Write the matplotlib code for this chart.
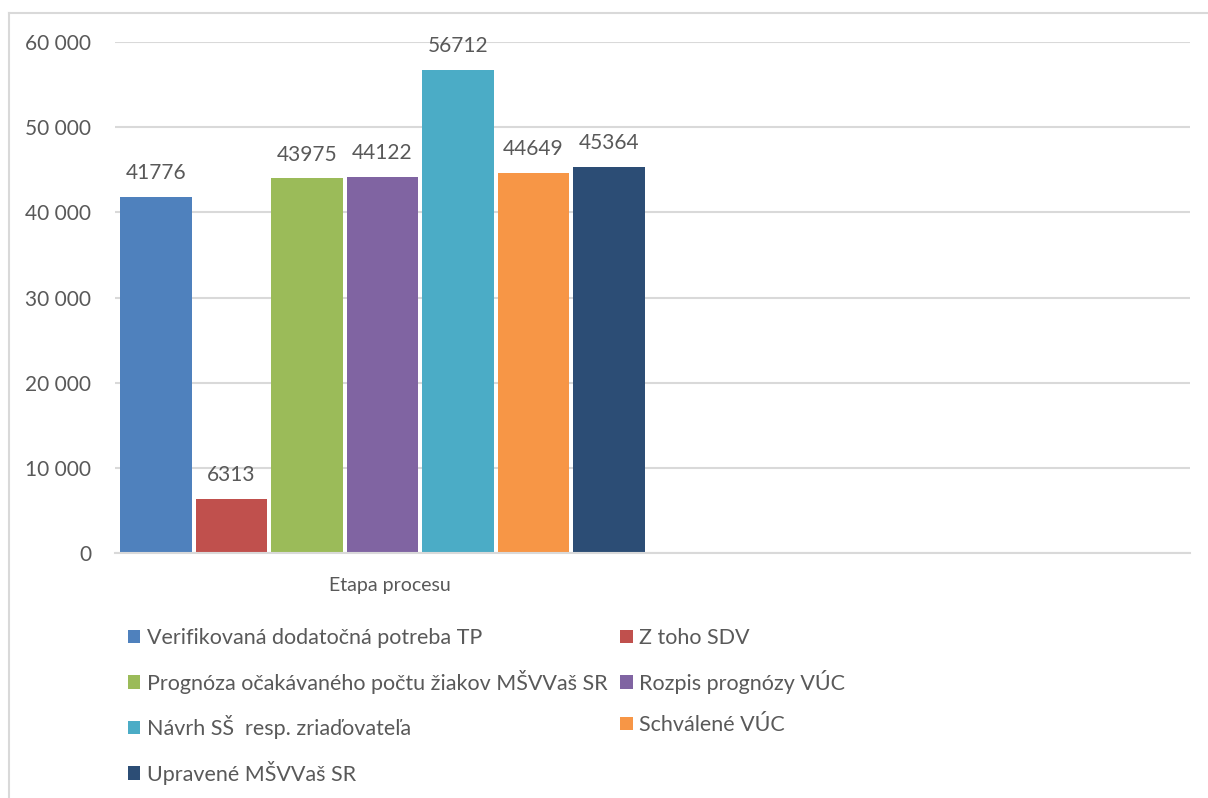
import matplotlib
matplotlib.use("Agg")
import matplotlib.pyplot as plt
from matplotlib.lines import Line2D
from matplotlib.patches import Patch

# data
series = ["Verifikovaná dodatočná potreba TP", "Z toho SDV",
          "Prognóza očakávaného počtu žiakov MŠVVaš SR", "Rozpis prognózy VÚC",
          "Návrh SŠ  resp. zriaďovateľa", "Schválené VÚC", "Upravené MŠVVaš SR"]
values = [41776, 6313, 43975, 44122, 56712, 44649, 45364]
colors = ["#4F81BD", "#C0504D", "#9BBB59", "#8064A2", "#4BACC6", "#F79646", "#2C4D75"]
category = "Etapa procesu"
yticks = [0, 10000, 20000, 30000, 40000, 50000, 60000]

plt.rcParams['font.family'] = ['Lato', 'DejaVu Sans']
txt = "#595959"
W, H = 1208, 798
fig = plt.figure(figsize=(W / 100, H / 100), dpi=100)
ax = fig.add_axes([115 / W, 1 - 553 / H, (1190 - 115) / W, (553 - 42) / H])

x = list(range(len(values)))
bars = ax.bar(x, values, width=0.95, color=colors, zorder=3)
for xi, v in zip(x, values):
    ax.annotate(str(v), (xi, v), xytext=(0, 10), textcoords="offset points",
                ha="center", va="bottom", fontsize=15, color=txt)

ax.set_xlim(-0.543, 13.7)
ax.set_ylim(0, 60000)
ax.set_yticks(yticks)
ax.set_yticklabels([f"{t:,}".replace(",", " ") for t in yticks], fontsize=15, color=txt)
ax.tick_params(axis="y", length=0, pad=17)
ax.set_xticks([])
ax.grid(axis="y", color="#d9d9d9", lw=1.5, zorder=0)
for s in ["left", "right", "top"]:
    ax.spines[s].set_visible(False)
ax.spines["bottom"].set_color("#d9d9d9")
ax.spines["bottom"].set_linewidth(1.5)
ax.spines["bottom"].set_zorder(4)

fig.text(390 / W, 1 - 585 / H, category, ha="center", va="center", fontsize=14, color=txt)

handles = [Patch(facecolor=c, edgecolor="none") for c in colors]
order = [0, 2, 4, 6, 1, 3, 5]
leg = fig.legend([handles[i] for i in order], [series[i] for i in order],
                 ncol=2, loc="upper left", bbox_to_anchor=(128 / W, 1 - 628 / H),
                 frameon=False, fontsize=15.5, handlelength=0.57, handleheight=0.57,
                 handletextpad=0.3, labelspacing=1.0, columnspacing=0.6,
                 borderpad=0, borderaxespad=0)
for t in leg.get_texts():
    t.set_color(txt)

# chart area border
fig.add_artist(Line2D([8.5 / W, 8.5 / W], [0, 1 - 13 / H], color="#d9d9d9", lw=1.5,
                      transform=fig.transFigure))
fig.add_artist(Line2D([8.5 / W, 1], [1 - 13 / H, 1 - 13 / H], color="#d9d9d9", lw=1.5,
                      transform=fig.transFigure))

fig.savefig("out.png", dpi=100)
